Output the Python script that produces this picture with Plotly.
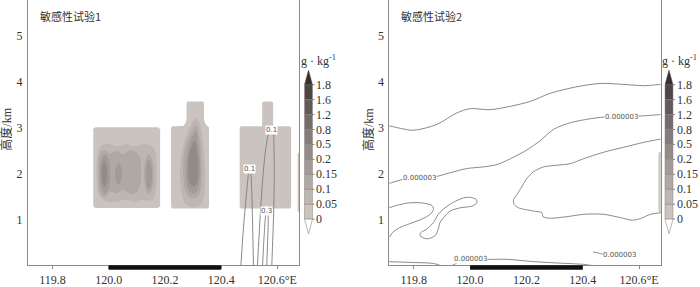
import plotly.graph_objects as go

W, H = 700, 287

# ---------------- data ----------------
levels = [0, 0.05, 0.1, 0.15, 0.2, 0.5, 0.8, 1.2, 1.6, 1.8]
level_labels = ["0", "0.05", "0.1", "0.15", "0.2", "0.5", "0.8", "1.2", "1.6", "1.8"]
band_colors = ["#cbc3c0", "#beb6b3", "#b0a8a5", "#a29a97", "#938b88",
               "#847c7a", "#746c6b", "#625a59", "#4e4645"]
over_color = "#37302e"
under_color = "#ffffff"

x_tickvals = [119.8, 120.0, 120.2, 120.4, 120.6]
x_ticktext = ["119.8", "120.0", "120.2", "120.4", "120.6°E"]
y_tickvals = [1, 2, 3, 4, 5]
lon_range = [119.713, 120.677]
hgt_range = [0.02, 5.77]
land_lon = [120.0, 120.4]
titles = ["敏感性试验1", "敏感性试验2"]

# --- experiment 1: shaded regions (band index, lon, height) ---
e1_b1_band1_lon = [119.952, 120.176, 120.183, 120.183, 120.176, 119.952, 119.945, 119.945]
e1_b1_band1_hgt = [3.01, 3.01, 2.97, 1.30, 1.26, 1.26, 1.30, 2.97]
e1_b1_band2_lon = [119.957, 119.962, 119.975, 120.000, 120.030, 120.060, 120.090, 120.120, 120.150, 120.165,
                   120.170, 120.165, 120.150, 120.120, 120.090, 120.060, 120.030, 119.995, 119.970, 119.960]
e1_b1_band2_hgt = [2.00, 2.45, 2.62, 2.66, 2.60, 2.65, 2.60, 2.64, 2.62, 2.50,
                   2.00, 1.55, 1.42, 1.44, 1.40, 1.44, 1.40, 1.40, 1.50, 1.70]
e1_b1_band3_lon = [119.964, 119.968, 119.985, 120.005, 120.030, 120.050, 120.075, 120.100, 120.113,
                   120.115, 120.110, 120.090, 120.070, 120.050, 120.030, 120.005, 119.985, 119.968]
e1_b1_band3_hgt = [2.00, 2.42, 2.52, 2.44, 2.50, 2.42, 2.50, 2.46, 2.30,
                   2.00, 1.72, 1.56, 1.60, 1.65, 1.58, 1.62, 1.50, 1.62]
e1_b1_band3r_lon = [120.143, 120.155, 120.160, 120.155, 120.143, 120.131, 120.126, 120.131]
e1_b1_band3r_hgt = [2.42, 2.30, 1.99, 1.69, 1.56, 1.69, 1.99, 2.30]
e1_b1_band4a_lon = [119.987, 120.000, 120.005, 120.000, 119.987, 119.974, 119.969, 119.974]
e1_b1_band4a_hgt = [2.42, 2.30, 2.00, 1.70, 1.58, 1.70, 2.00, 2.30]
e1_b1_band4b_lon = [120.035, 120.0435, 120.047, 120.0435, 120.035, 120.0265, 120.023, 120.0265]
e1_b1_band4b_hgt = [2.23, 2.16, 2.00, 1.84, 1.77, 1.84, 2.00, 2.16]
e1_b1_band4c_lon = [120.143, 120.151, 120.154, 120.151, 120.143, 120.135, 120.132, 120.135]
e1_b1_band4c_hgt = [2.30, 2.21, 1.98, 1.75, 1.66, 1.75, 1.98, 2.21]
e1_b1_band5_lon = [119.985, 119.992, 119.995, 119.992, 119.985, 119.978, 119.975, 119.978]
e1_b1_band5_hgt = [2.27, 2.19, 2.00, 1.81, 1.73, 1.81, 2.00, 2.19]

e1_b2_band1_lon = [120.226, 120.353, 120.357, 120.357, 120.353, 120.350, 120.343, 120.339, 120.339,
                   120.335, 120.281, 120.277, 120.277, 120.273, 120.266, 120.226, 120.222, 120.222]
e1_b2_band1_hgt = [1.25, 1.25, 1.29, 3.00, 3.035, 3.04, 3.10, 3.19, 3.54,
                   3.572, 3.572, 3.54, 3.19, 3.10, 3.04, 3.035, 3.00, 1.29]
e1_b2_band2_lon = [120.311, 120.325, 120.337, 120.343, 120.338, 120.322, 120.300, 120.272, 120.257, 120.254, 120.265, 120.288]
e1_b2_band2_hgt = [3.22, 3.05, 2.60, 2.00, 1.50, 1.31, 1.28, 1.36, 1.70, 2.10, 2.60, 3.00]
e1_b2_band3_lon = [120.312, 120.323, 120.331, 120.330, 120.318, 120.298, 120.278, 120.266, 120.267, 120.285]
e1_b2_band3_hgt = [3.05, 2.80, 2.30, 1.80, 1.52, 1.48, 1.57, 1.90, 2.40, 2.80]
e1_b2_band4_lon = [120.310, 120.320, 120.325, 120.322, 120.310, 120.295, 120.281, 120.275, 120.279, 120.293]
e1_b2_band4_hgt = [2.92, 2.60, 2.20, 1.80, 1.60, 1.58, 1.70, 2.00, 2.40, 2.75]
e1_b2_band5_lon = [120.307, 120.315, 120.318, 120.314, 120.302, 120.290, 120.283, 120.285, 120.295]
e1_b2_band5_hgt = [2.72, 2.45, 2.10, 1.82, 1.73, 1.78, 2.00, 2.35, 2.60]

e1_b3_band1_lon = [120.470, 120.645, 120.649, 120.649, 120.645, 120.585, 120.585, 120.581, 120.550,
                   120.546, 120.546, 120.470, 120.466, 120.466]
e1_b3_band1_hgt = [1.25, 1.25, 1.29, 3.00, 3.035, 3.035, 3.54, 3.572, 3.572,
                   3.54, 3.035, 3.035, 3.00, 1.29]
e1_b4_band1_lon = [120.676, 120.69, 120.69, 120.676, 120.672, 120.672]
e1_b4_band1_hgt = [2.47, 2.47, 1.17, 1.17, 1.21, 2.43]

# --- experiment 1: contour lines ---
e1_lineA_lon = [120.470, 120.480, 120.491, 120.498, 120.501, 120.505, 120.509, 120.512, 120.515]
e1_lineA_hgt = [-0.02, 0.876, 1.621, 2.047, 2.13, 2.047, 1.62, 0.876, -0.02]
e1_lineB_lon = [120.529, 120.540, 120.551, 120.562, 120.571, 120.578, 120.585, 120.588, 120.589, 120.587, 120.580]
e1_lineB_hgt = [-0.02, 1.195, 2.11, 2.685, 2.92, 2.97, 2.92, 2.58, 1.98, 1.195, -0.02]
e1_lineC_lon = [120.547, 120.553, 120.558, 120.562, 120.567, 120.566, 120.562]
e1_lineC_hgt = [-0.02, 0.664, 1.09, 1.195, 1.09, 0.664, -0.02]
e1_label_text = ["0.1", "0.1", "0.3"]
e1_label_lon = [120.501, 120.578, 120.562]
e1_label_hgt = [2.11, 2.96, 1.20]

# --- experiment 2 ---
e2_strip_lon = [120.673, 120.69, 120.69, 120.673, 120.669, 120.669]
e2_strip_hgt = [2.48, 2.48, 1.16, 1.16, 1.20, 2.44]

e2_lineP_lon = [119.70, 119.713, 119.798, 119.882, 119.953, 120.000, 120.071, 120.143, 120.214,
                120.285, 120.380, 120.463, 120.546, 120.617, 120.679, 120.70]
e2_lineP_hgt = [3.045, 3.04, 2.947, 3.074, 3.323, 3.415, 3.393, 3.466, 3.572,
                3.749, 3.891, 3.961, 3.940, 3.913, 3.94, 3.94]
e2_lineQ_lon = [119.70, 119.763, 119.819, 119.876, 119.929, 119.988, 120.048, 120.095, 120.143, 120.202,
                120.249, 120.297, 120.356, 120.427, 120.475, 120.534, 120.599, 120.679, 120.70]
e2_lineQ_hgt = [1.77, 1.883, 1.919, 1.940, 2.026, 2.117, 2.153, 2.202, 2.330, 2.521,
                2.721, 2.968, 3.110, 3.196, 3.232, 3.232, 3.253, 3.287, 3.29]
e2_lineR_lon = [120.70, 120.679, 120.617, 120.546, 120.475, 120.403, 120.356, 120.309, 120.261, 120.225,
                120.202, 120.184, 120.166, 120.154, 120.157, 120.172, 120.225, 120.255, 120.259, 120.285,
                120.344, 120.403, 120.475, 120.534, 120.576, 120.605, 120.641, 120.679, 120.70]
e2_lineR_hgt = [2.75, 2.755, 2.685, 2.579, 2.472, 2.330, 2.223, 2.189, 2.153, 2.047,
                1.904, 1.728, 1.551, 1.444, 1.338, 1.266, 1.196, 1.159, 1.074, 1.040,
                1.074, 1.125, 1.125, 1.053, 0.998, 1.032, 1.125, 1.159, 1.16]
e2_lineS_lon = [119.70, 119.739, 119.781, 119.828, 119.864, 119.870, 119.858, 119.828, 119.787,
                119.751, 119.725, 119.713, 119.70]
e2_lineS_hgt = [1.24, 1.317, 1.372, 1.372, 1.317, 1.232, 1.125, 1.019, 0.925,
                0.840, 0.734, 0.627, 0.60]
e2_lineT_lon = [119.822, 119.846, 119.876, 119.887, 119.893, 119.911, 119.929, 119.965, 120.006, 120.024,
                120.022, 120.000, 119.976, 119.941, 119.911, 119.887, 119.870, 119.846, 119.824, 119.822]
e2_lineT_hgt = [0.664, 0.593, 0.664, 0.806, 0.947, 1.089, 1.196, 1.266, 1.302, 1.372,
                1.444, 1.493, 1.479, 1.387, 1.266, 1.125, 0.947, 0.806, 0.721, 0.664]
e2_lineU_lon = [119.70, 119.80, 119.87, 119.92, 119.97, 120.00, 120.06, 120.131, 120.225, 120.309, 120.403, 120.45, 120.50]
e2_lineU_hgt = [0.10, 0.08, 0.06, -0.02, 0.12, 0.15, 0.147, 0.15, 0.10, 0.07, 0.04, 0.0, -0.03]
e2_lineV_lon = [120.437, 120.456, 120.475]
e2_lineV_hgt = [0.308, 0.285, 0.253]
e2_label_text = ["0.000003", "0.000003", "0.000003", "0.000003"]
e2_label_lon = [119.819, 120.537, 120.000, 120.530]
e2_label_hgt = [1.919, 3.232, 0.153, 0.238]

e1_fills = [
    (0, e1_b1_band1_lon, e1_b1_band1_hgt, "linear"),
    (1, e1_b1_band2_lon, e1_b1_band2_hgt, "spline"),
    (2, e1_b1_band3_lon, e1_b1_band3_hgt, "spline"),
    (2, e1_b1_band3r_lon, e1_b1_band3r_hgt, "spline"),
    (3, e1_b1_band4a_lon, e1_b1_band4a_hgt, "spline"),
    (3, e1_b1_band4b_lon, e1_b1_band4b_hgt, "spline"),
    (3, e1_b1_band4c_lon, e1_b1_band4c_hgt, "spline"),
    (4, e1_b1_band5_lon, e1_b1_band5_hgt, "spline"),
    (0, e1_b2_band1_lon, e1_b2_band1_hgt, "linear"),
    (1, e1_b2_band2_lon, e1_b2_band2_hgt, "spline"),
    (2, e1_b2_band3_lon, e1_b2_band3_hgt, "spline"),
    (3, e1_b2_band4_lon, e1_b2_band4_hgt, "spline"),
    (4, e1_b2_band5_lon, e1_b2_band5_hgt, "spline"),
    (0, e1_b3_band1_lon, e1_b3_band1_hgt, "linear"),
    (0, e1_b4_band1_lon, e1_b4_band1_hgt, "linear"),
]
e2_fills = [(0, e2_strip_lon, e2_strip_hgt, "linear")]
e1_lines = [(e1_lineA_lon, e1_lineA_hgt), (e1_lineB_lon, e1_lineB_hgt), (e1_lineC_lon, e1_lineC_hgt)]
e2_lines = [(e2_lineP_lon, e2_lineP_hgt), (e2_lineQ_lon, e2_lineQ_hgt), (e2_lineR_lon, e2_lineR_hgt),
            (e2_lineS_lon, e2_lineS_hgt), (e2_lineT_lon, e2_lineT_hgt), (e2_lineU_lon, e2_lineU_hgt),
            (e2_lineV_lon, e2_lineV_hgt)]

# ---------------- figure ----------------
SERIF = "Liberation Serif, Noto Sans CJK SC"
CJK = "Noto Sans CJK SC"
AXC = "#8a8a8a"
LINEC = "#7d7d7d"

fig = go.Figure()

def add_fills(fills, xa, ya):
    for band, lon, hgt, shp in fills:
        fig.add_trace(go.Scatter(
            x=list(lon) + [lon[0]], y=list(hgt) + [hgt[0]], mode="lines",
            fill="toself", fillcolor=band_colors[band],
            line=dict(width=0, shape=shp, color=band_colors[band]),
            xaxis=xa, yaxis=ya, hoverinfo="skip"))

def add_lines(lines, xa, ya):
    for lon, hgt in lines:
        fig.add_trace(go.Scatter(
            x=lon, y=hgt, mode="lines",
            line=dict(width=0.9, color=LINEC, shape="spline", smoothing=0.8),
            xaxis=xa, yaxis=ya, hoverinfo="skip"))

add_fills(e1_fills, "x", "y")
add_lines(e1_lines, "x", "y")
add_fills(e2_fills, "x2", "y2")
add_lines(e2_lines, "x2", "y2")

def px(v):
    return v / W

def py(v):
    return 1 - v / H

plot_left = [28, 389.3]
plot_right = [299, 660.7]
plot_bottom = 270

annotations = []
shapes = []

for k in range(2):
    xa = "x" if k == 0 else "x2"
    # land bar
    shapes.append(dict(type="rect", xref=xa, yref="paper", x0=land_lon[0], x1=land_lon[1],
                       y0=py(274.5), y1=py(270), fillcolor="#111111", line=dict(width=0), layer="above"))
    # panel title
    annotations.append(dict(text=titles[k], xref="paper", yref="paper",
                            x=px(plot_left[k] + 10), y=py(16), xanchor="left", yanchor="middle",
                            showarrow=False, font=dict(family=CJK, size=11, color="#333333")))
    # y title
    annotations.append(dict(text="高度/km", xref="paper", yref="paper",
                            x=px(plot_left[k] - 21), y=py(132), xanchor="center", yanchor="middle",
                            textangle=-90, showarrow=False, font=dict(family=SERIF, size=12, color="#333333")))
    # colour bar
    cx0 = 304.5 if k == 0 else 665.0
    cw = 8.0
    top, bot = 86.2, 223.0
    step = (bot - top) / (len(levels) - 1)
    for i, c in enumerate(band_colors):
        yb = bot - i * step
        yt = yb - step
        shapes.append(dict(type="rect", xref="paper", yref="paper",
                           x0=px(cx0), x1=px(cx0 + cw), y0=py(yb), y1=py(yt),
                           fillcolor=c, line=dict(width=0.5, color="#8a8282")))
    shapes.append(dict(type="path", xref="paper", yref="paper",
                       path=f"M {px(cx0)} {py(top)} L {px(cx0 + cw)} {py(top)} L {px(cx0 + cw / 2)} {py(top - 15)} Z",
                       fillcolor=over_color, line=dict(width=0.5, color="#555555")))
    shapes.append(dict(type="path", xref="paper", yref="paper",
                       path=f"M {px(cx0)} {py(bot)} L {px(cx0 + cw)} {py(bot)} L {px(cx0 + cw / 2)} {py(bot + 15)} Z",
                       fillcolor=under_color, line=dict(width=0.6, color="#8a8a8a")))
    for i, lab in enumerate(level_labels):
        yy = bot - i * step
        shapes.append(dict(type="line", xref="paper", yref="paper",
                           x0=px(cx0 + cw), x1=px(cx0 + cw + 2), y0=py(yy), y1=py(yy),
                           line=dict(width=0.8, color="#666666")))
        annotations.append(dict(text=lab, xref="paper", yref="paper", x=px(cx0 + cw + 1.5), y=py(yy),
                                xanchor="left", yanchor="middle", showarrow=False,
                                font=dict(family=SERIF, size=12, color="#333333")))
    annotations.append(dict(text="g · kg<sup>-1</sup>", xref="paper", yref="paper",
                            x=px(cx0 + 14), y=py(62), xanchor="center", yanchor="middle", showarrow=False,
                            font=dict(family=SERIF, size=12, color="#333333")))

for t, lo, hg in zip(e1_label_text, e1_label_lon, e1_label_hgt):
    annotations.append(dict(text=t, x=lo, y=hg, xref="x", yref="y", showarrow=False,
                            bgcolor="white", borderpad=0, font=dict(family="DejaVu Sans", size=7, color="#555555")))
for t, lo, hg in zip(e2_label_text, e2_label_lon, e2_label_hgt):
    annotations.append(dict(text=t, x=lo, y=hg, xref="x2", yref="y2", showarrow=False,
                            bgcolor="white", borderpad=0, font=dict(family="DejaVu Sans", size=7, color="#555555")))

def xaxis(k):
    return dict(domain=[px(plot_left[k]), px(plot_right[k])], range=lon_range,
                anchor="y" if k == 0 else "y2",
                showline=True, linecolor=AXC, linewidth=1, mirror=False,
                ticks="outside", ticklen=3, tickcolor=AXC, tickwidth=1,
                tickvals=x_tickvals, ticktext=x_ticktext,
                tickfont=dict(family=SERIF, size=12, color="#333333"),
                showgrid=False, zeroline=False, fixedrange=True)

def yaxis(k):
    return dict(domain=[py(plot_bottom), 1.0], range=hgt_range,
                anchor="x" if k == 0 else "x2",
                showline=True, linecolor=AXC, linewidth=1, mirror=True,
                ticks="outside", ticklen=2, tickcolor="rgba(0,0,0,0)",
                tickvals=y_tickvals,
                tickfont=dict(family=SERIF, size=12, color="#333333"),
                showgrid=False, zeroline=False, fixedrange=True)

fig.update_layout(
    width=W, height=H, margin=dict(l=0, r=0, t=0, b=0),
    paper_bgcolor="white", plot_bgcolor="white", showlegend=False,
    xaxis=xaxis(0), yaxis=yaxis(0), xaxis2=xaxis(1), yaxis2=yaxis(1),
    shapes=shapes, annotations=annotations,
)

fig.write_html(
    "out.html",
    config={"displayModeBar": False},
    post_script="document.body.style.margin='0';document.body.style.padding='0';document.body.style.overflow='hidden';",
)
